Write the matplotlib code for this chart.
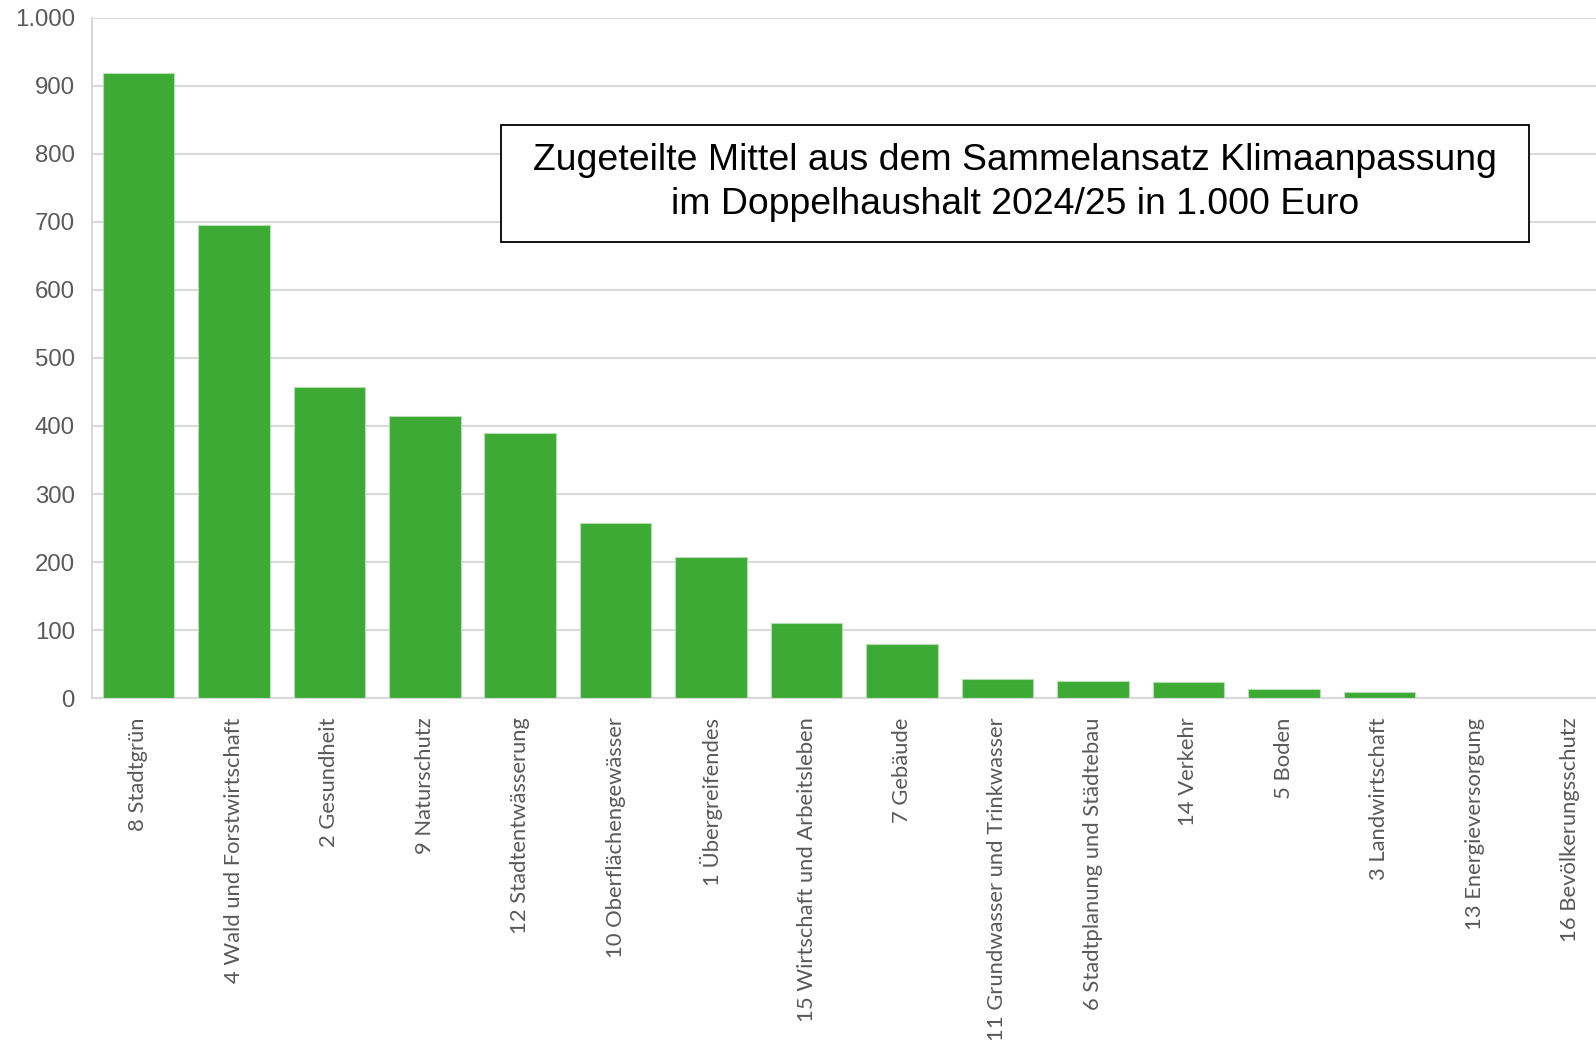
import numpy as np
import matplotlib.pyplot as plt
from matplotlib.patches import Rectangle
from matplotlib.ticker import FuncFormatter

# Kategorien und Werte (in 1.000 Euro)
kategorien = ['8 Stadtgrün', '4 Wald und Forstwirtschaft', '2 Gesundheit', '9 Naturschutz',
              '12 Stadtentwässerung', '10 Oberflächengewässer', '1 Übergreifendes',
              '15 Wirtschaft und Arbeitsleben', '7 Gebäude', '11 Grundwasser und Trinkwasser',
              '6 Stadtplanung und Städtebau', '14 Verkehr', '5 Boden', '3 Landwirtschaft',
              '13 Energieversorgung', '16 Bevölkerungsschutz']
werte = [919, 695, 458, 415, 389, 258, 208, 111, 79, 28, 25, 24, 13, 9, 0, 0]
y_ticks = [0, 100, 200, 300, 400, 500, 600, 700, 800, 900, 1000]

titel = 'Zugeteilte Mittel aus dem Sammelansatz Klimaanpassung\nim Doppelhaushalt 2024/25 in 1.000 Euro'

grau = '#D9D9D9'
gruen = '#3DAA35'

fig = plt.figure(figsize=(15.96, 10.42), dpi=100)
ax = fig.add_axes([0.0574, 0.330, 1 - 0.0574, 0.653])

x = np.arange(len(werte))
ax.bar(x, werte, width=0.75, color=gruen, edgecolor='#B5DDB2', linewidth=0.8, zorder=3)

ax.set_ylim(0, 1000)
ax.set_xlim(-0.49, 15.27)
ax.set_yticks(y_ticks)
ax.yaxis.set_major_formatter(FuncFormatter(lambda v, p: f'{int(v):,}'.replace(',', '.')))
ax.grid(axis='y', color=grau, linewidth=1.5, zorder=0)

for s in ['top', 'right']:
    ax.spines[s].set_visible(False)
for s in ['left', 'bottom']:
    ax.spines[s].set_color(grau)
    ax.spines[s].set_linewidth(1.5)

ax.tick_params(axis='both', length=0)
ax.tick_params(axis='y', pad=12, labelsize=17.3, labelcolor='#595959')
ax.set_xticks(x)
ax.set_xticklabels(kategorien, rotation=90, ha='center', va='top',
                   fontsize=15.8, color='#595959', family='Lato')
ax.tick_params(axis='x', pad=14)
for t in ax.get_yticklabels():
    t.set_family('Liberation Sans')

# Titelbox
ax.add_patch(Rectangle((0.272, 0.671), 0.6835, 0.171, transform=ax.transAxes,
                       facecolor='white', edgecolor='black', linewidth=1.3, zorder=5))
ax.text(0.6138, 0.758, titel, transform=ax.transAxes, ha='center', va='center',
        fontsize=26.9, family='Liberation Sans', linespacing=1.32, zorder=6)

fig.savefig('out.png', dpi=100)
